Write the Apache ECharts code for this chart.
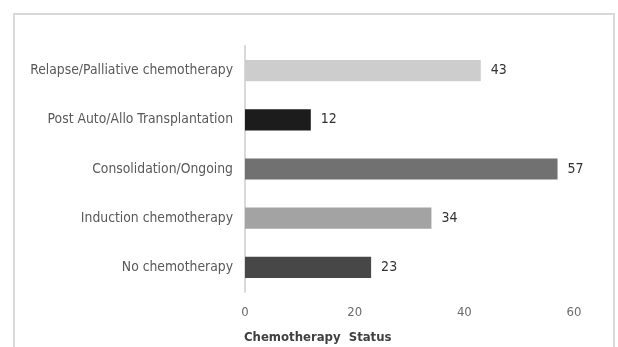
<!DOCTYPE html>
<html>
<head>
<meta charset="utf-8">
<script src="https://cdn.jsdelivr.net/npm/echarts@6/dist/echarts.min.js"></script>
<style>
  html, body { margin: 0; padding: 0; background: #ffffff; }
  #chart { width: 618px; height: 347px; }
</style>
</head>
<body>
<div id="chart"></div>
<script>
// Patient counts by chemotherapy status (bottom to top on the category axis)
const categories = [
  'No chemotherapy',
  'Induction chemotherapy',
  'Consolidation/Ongoing',
  'Post Auto/Allo Transplantation',
  'Relapse/Palliative chemotherapy'
];
const counts = [23, 34, 57, 12, 43];
const barColors = ['#474747', '#a3a3a3', '#717171', '#1c1c1c', '#cdcdcd'];
const xTicks = { min: 0, max: 60, interval: 20 };
const axisTitle = 'Chemotherapy  Status';

const font = "'DejaVu Sans Condensed', 'Liberation Sans', sans-serif";

const chart = echarts.init(document.getElementById('chart'), null, { renderer: 'canvas' });

chart.setOption({
  backgroundColor: '#ffffff',
  animation: false,
  grid: { left: 245, right: 44, top: 46, bottom: 55, containLabel: false },
  xAxis: {
    type: 'value',
    min: xTicks.min,
    max: xTicks.max,
    interval: xTicks.interval,
    axisLine: { show: false },
    axisTick: { show: false },
    splitLine: { show: false },
    axisLabel: { color: '#6b6b6b', fontSize: 13, fontFamily: font, margin: 14 }
  },
  yAxis: {
    type: 'category',
    data: categories,
    axisLine: { show: true, lineStyle: { color: '#d9d9d9', width: 2 } },
    axisTick: { show: false },
    axisLabel: { color: '#595959', fontSize: 13.8, fontFamily: font, margin: 12 }
  },
  series: [{
    type: 'bar',
    data: counts.map((v, i) => ({ value: v, itemStyle: { color: barColors[i] } })),
    barCategoryGap: '57%',
    label: {
      show: true,
      position: 'right',
      distance: 10,
      color: '#333333',
      fontSize: 14,
      fontFamily: font
    }
  }],
  graphic: [
    {
      type: 'rect',
      shape: { x: 14, y: 14, width: 600, height: 360 },
      style: { fill: 'none', stroke: '#d9d9d9', lineWidth: 2 },
      silent: true
    },
    {
      type: 'text',
      left: 244,
      top: 331,
      style: {
        text: axisTitle,
        fill: '#404040',
        font: "bold 13px " + font
      }
    }
  ]
});
</script>
</body>
</html>
